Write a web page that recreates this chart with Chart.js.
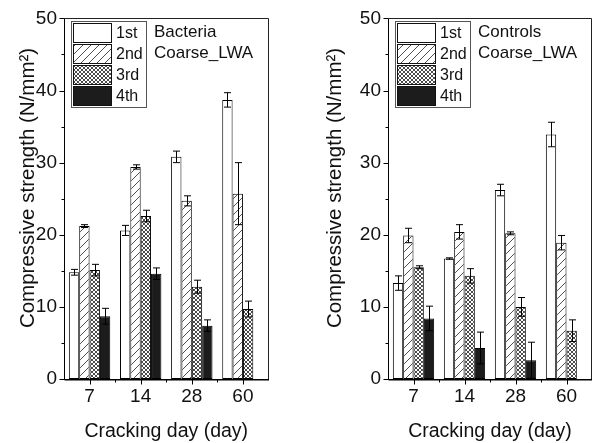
<!DOCTYPE html>
<html><head><meta charset="utf-8">
<script src="https://cdn.jsdelivr.net/npm/chart.js@4.4.1/dist/chart.umd.min.js"></script>
<style>
html,body{margin:0;padding:0;background:#fff;}
#wrap{position:relative;width:592px;height:443px;overflow:hidden;background:#fff;}
.c{position:absolute;top:0;width:296px;height:443px;}
</style></head><body>
<div id="wrap">
<div class="c" style="left:0"><canvas id="left" width="296" height="443"></canvas></div>
<div class="c" style="left:296px"><canvas id="right" width="296" height="443"></canvas></div>
</div>
<script>
// ---------- data ----------
const categories = ['7', '14', '28', '60'];
const seriesNames = ['1st', '2nd', '3rd', '4th'];
const yTickValues = [0, 10, 20, 30, 40, 50];

const bacteria1st = [14.8, 20.6, 30.8, 38.7];
const bacteria2nd = [21.2, 29.4, 24.7, 25.7];
const bacteria3rd = [15.1, 22.6, 12.8, 9.7];
const bacteria4th = [8.7, 14.6, 7.4, null];
const bacteria1stErr = [0.4, 0.7, 0.8, 1.0];
const bacteria2ndErr = [0.2, 0.3, 0.7, 4.3];
const bacteria3rdErr = [0.8, 0.8, 0.9, 1.1];
const bacteria4thErr = [1.1, 0.8, 0.8, null];

const controls1st = [13.3, 16.7, 26.2, 33.9];
const controls2nd = [19.9, 20.4, 20.2, 18.9];
const controls3rd = [15.5, 14.3, 10.0, 6.7];
const controls4th = [8.4, 4.3, 2.6, null];
const controls1stErr = [1.0, 0.1, 0.8, 1.7];
const controls2ndErr = [1.0, 1.0, 0.2, 1.0];
const controls3rdErr = [0.2, 1.0, 1.3, 1.5];
const controls4thErr = [1.7, 2.2, 2.5, null];

const leftNote = ['Bacteria', 'Coarse_LWA'];
const rightNote = ['Controls', 'Coarse_LWA'];
const xTitle = 'Cracking day (day)';
const yTitle = 'Compressive strength (N/mm\u00B2)';

// ---------- styling ----------
const FONT = "'Liberation Sans', Arial, Helvetica, sans-serif";
const INK = '#111';

function makePatterns(ctx) {
  const h = document.createElement('canvas'); h.width = 8; h.height = 8;
  const g = h.getContext('2d');
  g.fillStyle = '#fff'; g.fillRect(0, 0, 8, 8);
  g.strokeStyle = '#3c3c3c'; g.lineWidth = 0.9;
  g.beginPath();
  g.moveTo(0, 8); g.lineTo(8, 0);
  g.moveTo(-1, 1); g.lineTo(1, -1);
  g.moveTo(7, 9); g.lineTo(9, 7);
  g.stroke();
  const c = document.createElement('canvas'); c.width = 4; c.height = 4;
  const g2 = c.getContext('2d');
  g2.fillStyle = '#fff'; g2.fillRect(0, 0, 4, 4);
  g2.fillStyle = '#4a4a4a';
  for (let y = 0; y < 4; y++) for (let x = 0; x < 4; x++) {
    if (x === y || x + y === 3) g2.fillRect(x, y, 1, 1);
  }
  return ['#ffffff', ctx.createPattern(h, 'repeat'), ctx.createPattern(c, 'repeat'), '#1c1c1c'];
}

const errorBars = {
  id: 'errorBars',
  afterDatasetsDraw(chart) {
    const ctx = chart.ctx, ys = chart.scales.y;
    ctx.save();
    ctx.strokeStyle = '#000'; ctx.lineWidth = 1;
    chart.data.datasets.forEach((ds, di) => {
      const meta = chart.getDatasetMeta(di);
      meta.data.forEach((bar, i) => {
        const v = ds.data[i], e = ds.errors[i];
        if (v == null || e == null) return;
        const x = Math.round(bar.x) + 0.5;
        const yt = ys.getPixelForValue(v + e), yb = ys.getPixelForValue(v - e);
        ctx.beginPath();
        ctx.moveTo(x, yt); ctx.lineTo(x, yb);
        ctx.moveTo(x - 3.5, yt); ctx.lineTo(x + 3.5, yt);
        ctx.moveTo(x - 3.5, yb); ctx.lineTo(x + 3.5, yb);
        ctx.stroke();
      });
    });
    ctx.restore();
  }
};

const frameAndExtras = {
  id: 'frameAndExtras',
  afterDraw(chart) {
    const ctx = chart.ctx, a = chart.chartArea;
    const ys = chart.scales.y, xs = chart.scales.x;
    const L = Math.round(a.left) + 0.5, R = Math.round(a.right) - 0.5;
    const T = Math.round(a.top) + 0.5, B = Math.round(a.bottom) + 0.5;
    const o = chart.options.plugins.frameAndExtras;
    ctx.save();
    ctx.strokeStyle = '#222'; ctx.lineWidth = 1;
    ctx.beginPath();
    ctx.moveTo(L, T); ctx.lineTo(R, T); ctx.lineTo(R, B);
    ctx.stroke();
    ctx.strokeStyle = '#000';
    ctx.beginPath();
    ctx.moveTo(L, T); ctx.lineTo(L, B); ctx.lineTo(R + 0.5, B);
    for (let v = 0; v <= 50; v += 5) {
      const y = Math.round(ys.getPixelForValue(v)) + 0.5;
      const len = v % 10 === 0 ? 5 : 3;
      ctx.moveTo(L - len, y); ctx.lineTo(L, y);
    }
    const n = categories.length;
    for (let i = 0; i < n; i++) {
      const x = Math.round(xs.getPixelForValue(i)) + 0.5;
      ctx.moveTo(x, B - 1); ctx.lineTo(x, B + 5);
      if (i < n - 1) {
        const xm = Math.round((xs.getPixelForValue(i) + xs.getPixelForValue(i + 1)) / 2) + 0.5;
        ctx.moveTo(xm, B); ctx.lineTo(xm, B + 3);
      }
    }
    ctx.stroke();
    ctx.lineWidth = 1.5;
    ctx.beginPath();
    ctx.moveTo(L, B + 0.25); ctx.lineTo(R + 0.5, B + 0.25);
    ctx.stroke();
    ctx.lineWidth = 1;

    // y-axis title (rotated)
    ctx.save();
    ctx.translate(o.titleX, 188);
    ctx.rotate(-Math.PI / 2);
    ctx.font = '20.5px ' + FONT;
    ctx.fillStyle = INK;
    ctx.textAlign = 'center';
    ctx.textBaseline = 'middle';
    ctx.fillText(yTitle, 0, 0);
    ctx.restore();

    // legend box
    const pats = o.patterns;
    const lx = Math.round(a.left + 7);
    ctx.strokeStyle = '#555';
    ctx.strokeRect(lx + 0.5, 21.5, 75, 86);
    ctx.font = '16px ' + FONT;
    ctx.textBaseline = 'middle';
    ctx.textAlign = 'left';
    for (let k = 0; k < 4; k++) {
      const sy = 23.5 + k * 21;
      ctx.fillStyle = pats[k];
      ctx.fillRect(lx + 2.5, sy, 38, 19);
      ctx.strokeStyle = '#111';
      ctx.strokeRect(lx + 2.5, sy, 38, 19);
      ctx.fillStyle = INK;
      ctx.fillText(seriesNames[k], lx + 45, sy + 10);
    }
    ctx.font = '17px ' + FONT;
    ctx.fillStyle = INK;
    ctx.fillText(o.note[0], a.left + 90, 32);
    ctx.fillText(o.note[1], a.left + 90, 53.5);
    ctx.restore();
  }
};

function build(id, vals, errs, note, yAxisWidth, padRight, titleX) {
  const canvas = document.getElementById(id);
  const ctx = canvas.getContext('2d');
  const pats = makePatterns(ctx);
  const datasets = seriesNames.map((name, k) => ({
    label: name,
    data: vals[k],
    errors: errs[k],
    backgroundColor: pats[k],
    borderColor: '#000',
    borderWidth: 1,
    borderSkipped: false,
    categoryPercentage: 0.81,
    barPercentage: 1.0
  }));
  return new Chart(ctx, {
    type: 'bar',
    data: { labels: categories, datasets },
    options: {
      responsive: false,
      animation: false,
      devicePixelRatio: 1,
      layout: { padding: { top: 15, right: padRight, bottom: 0, left: 0 } },
      plugins: {
        legend: { display: false },
        tooltip: { enabled: false },
        frameAndExtras: { patterns: pats, note, titleX }
      },
      scales: {
        x: {
          grid: { display: false, drawTicks: false },
          border: { display: false },
          ticks: { color: INK, font: { family: FONT, size: 19 }, padding: 6, maxRotation: 0 },
          title: { display: true, text: xTitle, color: INK, font: { family: FONT, size: 19.5 }, padding: { top: 0, bottom: 0 } },
          afterFit(s) { s.height = 64; }
        },
        y: {
          min: 0, max: 50,
          afterBuildTicks(s) { s.ticks = yTickValues.map(v => ({ value: v })); },
          grid: { display: false, drawTicks: false },
          border: { display: false },
          ticks: { color: INK, font: { family: FONT, size: 19 }, padding: 7 },
          title: { display: false },
          afterFit(s) { s.width = yAxisWidth; }
        }
      }
    },
    plugins: [errorBars, frameAndExtras]
  });
}

build('left',
  [bacteria1st, bacteria2nd, bacteria3rd, bacteria4th],
  [bacteria1stErr, bacteria2ndErr, bacteria3rdErr, bacteria4thErr],
  leftNote, 64, 27.5, 28);
build('right',
  [controls1st, controls2nd, controls3rd, controls4th],
  [controls1stErr, controls2ndErr, controls3rdErr, controls4thErr],
  rightNote, 92, 0, 39);
</script>
</body></html>
